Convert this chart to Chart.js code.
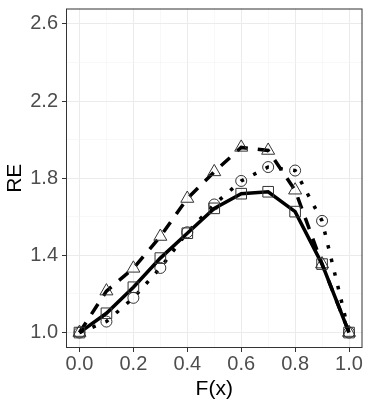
<!DOCTYPE html>
<html>
<head>
<meta charset="utf-8">
<script src="https://cdn.jsdelivr.net/npm/chart.js@4"></script>
<style>
  body { margin: 0; background: #fff; }
</style>
</head>
<body>
<canvas id="chart1" width="371" height="409"></canvas>
<script>
// values
var fx = [0.0, 0.1, 0.2, 0.3, 0.4, 0.5, 0.6, 0.7, 0.8, 0.9, 1.0]
var reSquare = [1.0, 1.10, 1.235, 1.386, 1.515, 1.644, 1.72, 1.73, 1.627, 1.355, 1.0]
var reTriangle = [1.0, 1.215, 1.333, 1.498, 1.695, 1.833, 1.96, 1.944, 1.738, 1.355, 1.0]
var reCircle = [1.0, 1.057, 1.18, 1.335, 1.52, 1.664, 1.786, 1.858, 1.84, 1.579, 1.0]

var xTicks = [0.0, 0.1, 0.2, 0.3, 0.4, 0.5, 0.6, 0.7, 0.8, 0.9, 1.0]
var xLabels = ["0.0", "0.2", "0.4", "0.6", "0.8", "1.0"]
var yTicks = [1.0, 1.2, 1.4, 1.6, 1.8, 2.0, 2.2, 2.4, 2.6]
var yLabels = ["1.0", "1.4", "1.8", "2.2", "2.6"]

function pts(ys) {
    return fx.map(function (x, i) { return { x: x, y: ys[i] } })
}

function isMajor(v, labels) {
    return labels.indexOf(v.toFixed(1)) >= 0
}

var panelBorder = {
    id: 'panelBorder',
    afterDraw: function (chart) {
        var a = chart.chartArea
        var ctx = chart.ctx
        ctx.save()
        ctx.strokeStyle = '#333333'
        ctx.lineWidth = 1
        ctx.strokeRect(a.left + 0.5, a.top + 0.5, a.right - a.left - 1, a.bottom - a.top - 1)
        ctx.restore()
    }
}

var markerColor = '#333333'

var ctx1 = document.getElementById('chart1')
const myChart = new Chart(ctx1, {
    type: 'line',
    data: {
        datasets: [{
            data: pts(reSquare),
            borderColor: '#000',
            borderWidth: 3.5,
            pointStyle: 'rect',
            pointRadius: 7.5,
            pointBorderColor: markerColor,
            pointBackgroundColor: 'rgba(0,0,0,0)',
            pointBorderWidth: 1
        }, {
            data: pts(reTriangle),
            borderColor: '#000',
            borderWidth: 3.5,
            borderDash: [12, 10],
            pointStyle: 'triangle',
            pointRadius: 7.5,
            pointBorderColor: markerColor,
            pointBackgroundColor: 'rgba(0,0,0,0)',
            pointBorderWidth: 1
        }, {
            data: pts(reCircle),
            borderColor: '#000',
            borderWidth: 3.5,
            borderDash: [3.5, 10.5],
            pointStyle: 'circle',
            pointRadius: 5.5,
            pointBorderColor: markerColor,
            pointBackgroundColor: 'rgba(0,0,0,0)',
            pointBorderWidth: 1
        }]
    },
    options: {
        responsive: false,
        animation: false,
        devicePixelRatio: 1,
        layout: {
            padding: { left: 0, top: 5, right: 2, bottom: 0 }
        },
        scales: {
            x: {
                type: 'linear',
                min: -0.05,
                max: 1.05,
                afterBuildTicks: function (scale) {
                    scale.ticks = xTicks.map(function (v) { return { value: v } })
                },
                afterFit: function (scale) {
                    scale.height = 61
                    scale.paddingLeft = 0
                    scale.paddingRight = 0
                },
                border: { display: false },
                grid: {
                    color: function (c) { return isMajor(c.tick.value, xLabels) ? '#ebebeb' : '#f4f4f4' },
                    lineWidth: function (c) { return isMajor(c.tick.value, xLabels) ? 1 : 0.6 },
                    tickColor: function (c) { return isMajor(c.tick.value, xLabels) ? '#333333' : 'rgba(0,0,0,0)' },
                    tickLength: 4
                },
                ticks: {
                    autoSkip: false,
                    maxRotation: 0,
                    padding: 0,
                    color: '#4d4d4d',
                    font: { family: 'Liberation Sans', size: 20 },
                    callback: function (v) {
                        var s = Number(v).toFixed(1)
                        return xLabels.indexOf(s) >= 0 ? s : ''
                    }
                },
                title: {
                    display: true,
                    text: 'F(x)',
                    color: '#000',
                    font: { family: 'Liberation Sans', size: 21 },
                    padding: { top: 0, bottom: 7 }
                }
            },
            y: {
                type: 'linear',
                min: 0.92,
                max: 2.68,
                afterBuildTicks: function (scale) {
                    scale.ticks = yTicks.map(function (v) { return { value: v } })
                },
                afterFit: function (scale) {
                    scale.width = 66
                    scale.paddingTop = 0
                    scale.paddingBottom = 0
                },
                border: { display: false },
                grid: {
                    color: function (c) { return isMajor(c.tick.value, yLabels) ? '#ebebeb' : '#f4f4f4' },
                    lineWidth: function (c) { return isMajor(c.tick.value, yLabels) ? 1 : 0.6 },
                    tickColor: function (c) { return isMajor(c.tick.value, yLabels) ? '#333333' : 'rgba(0,0,0,0)' },
                    tickLength: 4
                },
                ticks: {
                    autoSkip: false,
                    padding: 4,
                    color: '#4d4d4d',
                    font: { family: 'Liberation Sans', size: 20 },
                    callback: function (v) {
                        var s = Number(v).toFixed(1)
                        return yLabels.indexOf(s) >= 0 ? s : ''
                    }
                },
                title: {
                    display: true,
                    text: 'RE',
                    color: '#000',
                    font: { family: 'Liberation Sans', size: 21 },
                    padding: { top: 3, bottom: 0 }
                }
            }
        },
        plugins: {
            legend: { display: false },
            tooltip: { enabled: false }
        }
    },
    plugins: [panelBorder]
});
</script>
</body>
</html>
